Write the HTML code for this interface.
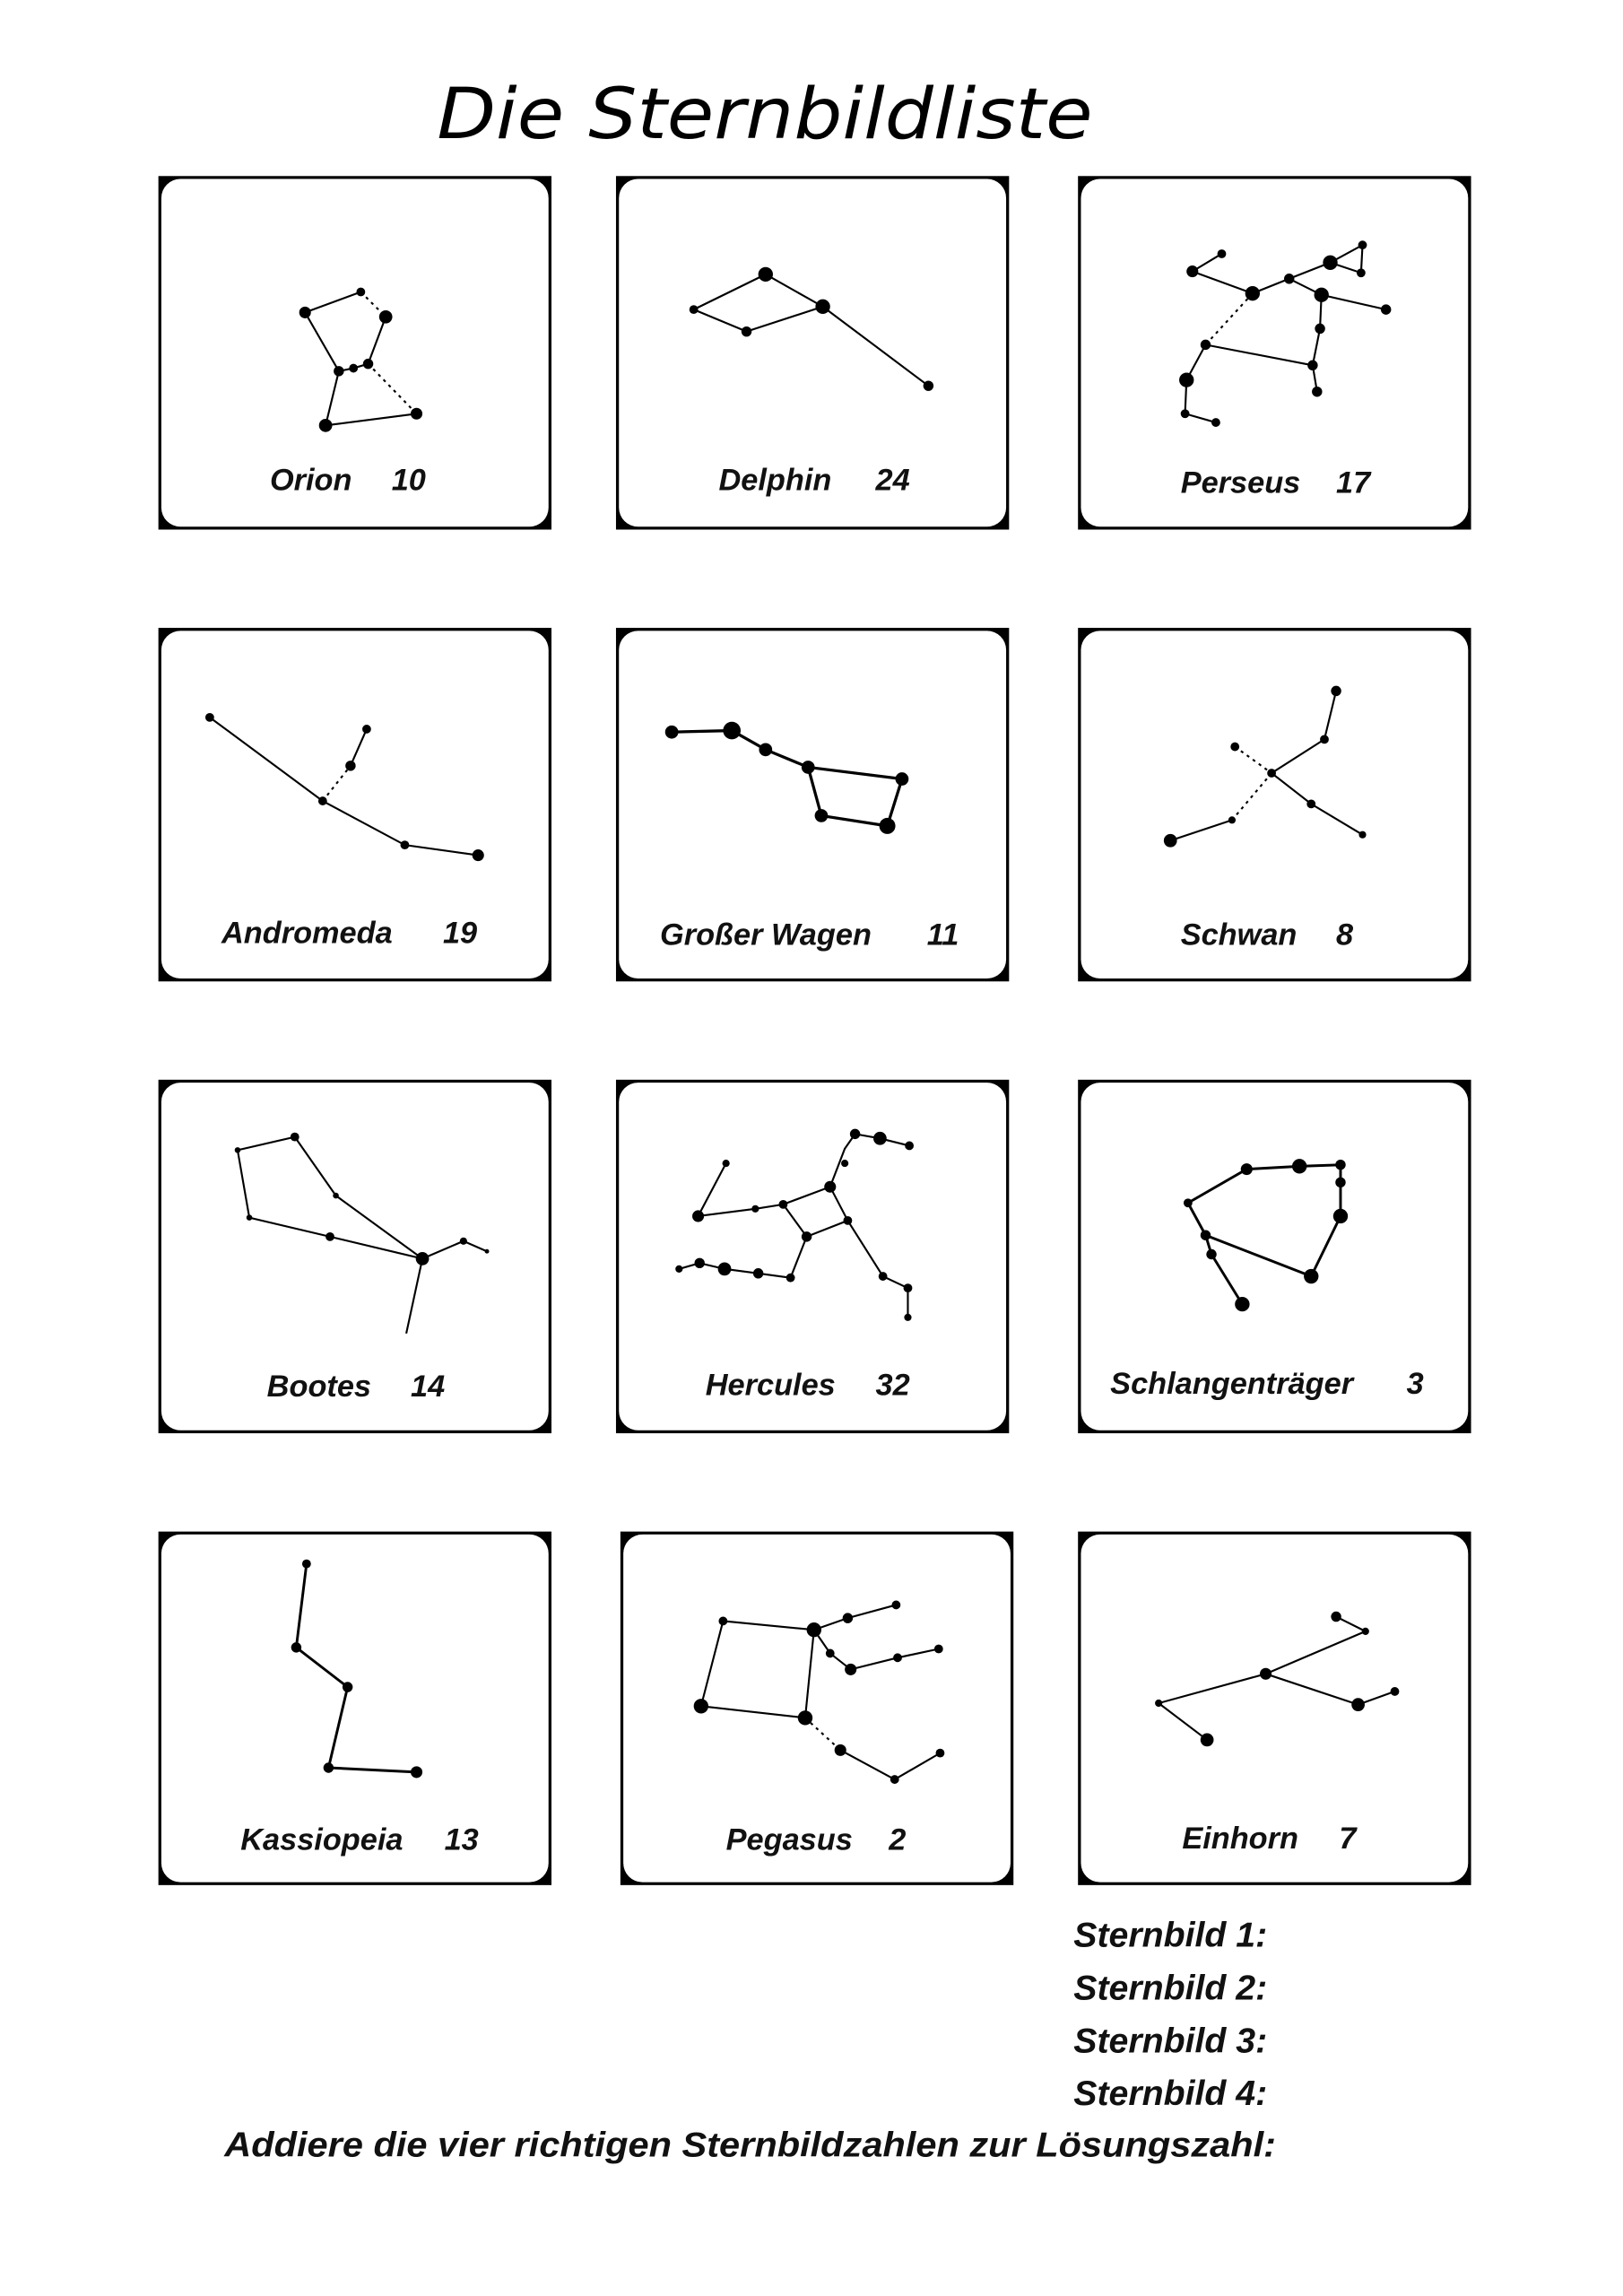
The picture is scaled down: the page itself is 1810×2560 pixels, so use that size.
<!DOCTYPE html>
<html><head><meta charset="utf-8"><style>
html,body{margin:0;padding:0;background:#fff}
svg{display:block}
.l{font-family:"Liberation Sans",sans-serif;font-weight:bold;font-style:italic;font-size:21px;fill:#111}
.b{font-family:"Liberation Sans",sans-serif;font-weight:bold;font-style:italic;font-size:24px;fill:#111}
line,polyline{stroke:#000;stroke-width:1.3;fill:none}
.d{stroke-dasharray:2 3}
circle{fill:#000}
</style></head><body>
<svg width="1810" height="2560" viewBox="0 0 1106.6 1565.1" preserveAspectRatio="none" xmlns="http://www.w3.org/2000/svg">
<text x="298" y="94" font-family="'DejaVu Sans',sans-serif" font-style="italic" font-size="48" textLength="447" lengthAdjust="spacingAndGlyphs" fill="#000">Die  Sternbildliste</text>
<g>
<rect x="108" y="120" width="268" height="241" fill="#000"/><rect x="110" y="122" width="264" height="237" rx="13" fill="#fff"/>
<rect x="420" y="120" width="268" height="241" fill="#000"/><rect x="422" y="122" width="264" height="237" rx="13" fill="#fff"/>
<rect x="735" y="120" width="268" height="241" fill="#000"/><rect x="737" y="122" width="264" height="237" rx="13" fill="#fff"/>
<rect x="108" y="428" width="268" height="241" fill="#000"/><rect x="110" y="430" width="264" height="237" rx="13" fill="#fff"/>
<rect x="420" y="428" width="268" height="241" fill="#000"/><rect x="422" y="430" width="264" height="237" rx="13" fill="#fff"/>
<rect x="735" y="428" width="268" height="241" fill="#000"/><rect x="737" y="430" width="264" height="237" rx="13" fill="#fff"/>
<rect x="108" y="736" width="268" height="241" fill="#000"/><rect x="110" y="738" width="264" height="237" rx="13" fill="#fff"/>
<rect x="420" y="736" width="268" height="241" fill="#000"/><rect x="422" y="738" width="264" height="237" rx="13" fill="#fff"/>
<rect x="735" y="736" width="268" height="241" fill="#000"/><rect x="737" y="738" width="264" height="237" rx="13" fill="#fff"/>
<rect x="108" y="1044" width="268" height="241" fill="#000"/><rect x="110" y="1046" width="264" height="237" rx="13" fill="#fff"/>
<rect x="423" y="1044" width="268" height="241" fill="#000"/><rect x="425" y="1046" width="264" height="237" rx="13" fill="#fff"/>
<rect x="735" y="1044" width="268" height="241" fill="#000"/><rect x="737" y="1046" width="264" height="237" rx="13" fill="#fff"/>
</g>
<!-- Orion -->
<polyline points="208,213 246,199"/><line class="d" x1="246" y1="199" x2="263" y2="216"/>
<polyline points="208,213 231,253 241,251 251,248 263,216"/><polyline points="231,253 222,290 284,282"/>
<line class="d" x1="251" y1="248" x2="284" y2="282"/>
<circle cx="208" cy="213" r="4"/><circle cx="246" cy="199" r="3"/><circle cx="263" cy="216" r="4.5"/><circle cx="231" cy="253" r="3.5"/><circle cx="241" cy="251" r="3"/><circle cx="251" cy="248" r="3.5"/><circle cx="222" cy="290" r="4.5"/><circle cx="284" cy="282" r="4"/>
<!-- Delphin -->
<polyline points="473,211 522,187 561,209 633,263"/><polyline points="473,211 509,226 561,209"/>
<circle cx="473" cy="211" r="3"/><circle cx="522" cy="187" r="5"/><circle cx="509" cy="226" r="3.5"/><circle cx="561" cy="209" r="5"/><circle cx="633" cy="263" r="3.5"/>
<!-- Perseus -->
<polyline points="833,173 813,185 854,200 879,190 907,179 929,167 928,186 907,179"/>
<polyline points="879,190 901,201 945,211"/><polyline points="901,201 900,224 895,249 898,267"/>
<line class="d" x1="854" y1="200" x2="822" y2="235"/><polyline points="895,249 822,235 809,259 808,282 829,288"/>
<circle cx="833" cy="173" r="3"/><circle cx="813" cy="185" r="4"/><circle cx="854" cy="200" r="5"/><circle cx="879" cy="190" r="3.5"/><circle cx="907" cy="179" r="5"/><circle cx="929" cy="167" r="3"/><circle cx="928" cy="186" r="3"/><circle cx="901" cy="201" r="5"/><circle cx="945" cy="211" r="3.5"/><circle cx="900" cy="224" r="3.5"/><circle cx="895" cy="249" r="3.5"/><circle cx="898" cy="267" r="3.5"/><circle cx="822" cy="235" r="3.5"/><circle cx="809" cy="259" r="5"/><circle cx="808" cy="282" r="3"/><circle cx="829" cy="288" r="3"/>
<!-- Andromeda -->
<polyline points="143,489 220,546 276,576 326,583"/><line class="d" x1="220" y1="546" x2="239" y2="522"/><line x1="239" y1="522" x2="250" y2="497"/>
<circle cx="143" cy="489" r="3"/><circle cx="220" cy="546" r="3"/><circle cx="239" cy="522" r="3.5"/><circle cx="250" cy="497" r="3"/><circle cx="276" cy="576" r="3"/><circle cx="326" cy="583" r="4"/>
<!-- Grosser Wagen -->
<polyline style="stroke-width:2" points="458,499 499,498 522,511 551,523 615,531 605,563 560,556 551,523"/>
<circle cx="458" cy="499" r="4.5"/><circle cx="499" cy="498" r="6"/><circle cx="522" cy="511" r="4.5"/><circle cx="551" cy="523" r="4.5"/><circle cx="615" cy="531" r="4.5"/><circle cx="605" cy="563" r="5.5"/><circle cx="560" cy="556" r="4.5"/>
<!-- Schwan -->
<polyline points="911,471 903,504 867,527 894,548 929,569"/><line class="d" x1="842" y1="509" x2="867" y2="527"/><line class="d" x1="867" y1="527" x2="840" y2="559"/><line x1="840" y1="559" x2="798" y2="573"/>
<circle cx="911" cy="471" r="3.5"/><circle cx="903" cy="504" r="3"/><circle cx="867" cy="527" r="3"/><circle cx="842" cy="509" r="3"/><circle cx="894" cy="548" r="3"/><circle cx="929" cy="569" r="2.5"/><circle cx="840" cy="559" r="2.5"/><circle cx="798" cy="573" r="4.5"/>
<!-- Bootes -->
<polyline points="162,784 201,775 229,815 288,858"/><polyline points="162,784 170,830 225,843 288,858 316,846 332,853"/><line x1="288" y1="858" x2="277" y2="909"/>
<circle cx="162" cy="784" r="2"/><circle cx="201" cy="775" r="3"/><circle cx="229" cy="815" r="2"/><circle cx="170" cy="830" r="2"/><circle cx="225" cy="843" r="3"/><circle cx="288" cy="858" r="4.5"/><circle cx="316" cy="846" r="2.5"/><circle cx="332" cy="853" r="1.5"/>
<!-- Hercules -->
<polyline points="495,793 476,829 515,824 534,821 566,809 578,832 550,843 534,821"/>
<polyline points="550,843 539,871 517,868 494,865 477,861 463,865"/>
<polyline points="566,809 576,783 583,773 600,776 620,781"/><polyline points="578,832 602,870 619,878 619,898"/>
<circle cx="495" cy="793" r="2.5"/><circle cx="476" cy="829" r="4"/><circle cx="515" cy="824" r="2.5"/><circle cx="534" cy="821" r="3"/><circle cx="566" cy="809" r="4"/><circle cx="578" cy="832" r="3"/><circle cx="550" cy="843" r="3.5"/><circle cx="539" cy="871" r="3"/><circle cx="517" cy="868" r="3.5"/><circle cx="494" cy="865" r="4.5"/><circle cx="477" cy="861" r="3.5"/><circle cx="463" cy="865" r="2.5"/><circle cx="576" cy="793" r="2.5"/><circle cx="583" cy="773" r="3.5"/><circle cx="600" cy="776" r="4.5"/><circle cx="620" cy="781" r="3"/><circle cx="602" cy="870" r="3"/><circle cx="619" cy="878" r="3"/><circle cx="619" cy="898" r="2.5"/>
<!-- Schlangentraeger -->
<polyline style="stroke-width:1.8" points="810,820 850,797 886,795 914,794 914,806 914,829 894,870 822,842"/><polyline style="stroke-width:1.8" points="810,820 822,842 826,855 847,889"/>
<circle cx="810" cy="820" r="3"/><circle cx="850" cy="797" r="4"/><circle cx="886" cy="795" r="5"/><circle cx="914" cy="794" r="3.5"/><circle cx="914" cy="806" r="3.5"/><circle cx="914" cy="829" r="5"/><circle cx="894" cy="870" r="5"/><circle cx="822" cy="842" r="3.5"/><circle cx="826" cy="855" r="3.5"/><circle cx="847" cy="889" r="5"/>
<!-- Kassiopeia -->
<polyline style="stroke-width:1.8" points="209,1066 202,1123 237,1150 224,1205 284,1208"/>
<circle cx="209" cy="1066" r="3"/><circle cx="202" cy="1123" r="3.5"/><circle cx="237" cy="1150" r="3.5"/><circle cx="224" cy="1205" r="3.5"/><circle cx="284" cy="1208" r="4"/>
<!-- Pegasus -->
<polyline points="555,1111 493,1105 478,1163 549,1171 555,1111 578,1103 611,1094"/><polyline points="555,1111 566,1127 580,1138 612,1130 640,1124"/>
<line class="d" x1="549" y1="1171" x2="573" y2="1193"/><polyline points="573,1193 610,1213 641,1195"/>
<circle cx="493" cy="1105" r="3"/><circle cx="555" cy="1111" r="5"/><circle cx="578" cy="1103" r="3.5"/><circle cx="611" cy="1094" r="3"/><circle cx="566" cy="1127" r="3"/><circle cx="580" cy="1138" r="4"/><circle cx="612" cy="1130" r="3"/><circle cx="640" cy="1124" r="3"/><circle cx="478" cy="1163" r="5"/><circle cx="549" cy="1171" r="5"/><circle cx="573" cy="1193" r="4"/><circle cx="610" cy="1213" r="3"/><circle cx="641" cy="1195" r="3"/>
<!-- Einhorn -->
<polyline points="911,1102 931,1112 863,1141 790,1161 823,1186"/><polyline points="863,1141 926,1162 951,1153"/>
<circle cx="911" cy="1102" r="3.5"/><circle cx="931" cy="1112" r="2.5"/><circle cx="863" cy="1141" r="4"/><circle cx="790" cy="1161" r="2.5"/><circle cx="823" cy="1186" r="4.5"/><circle cx="926" cy="1162" r="4.5"/><circle cx="951" cy="1153" r="3"/>
<!-- labels -->
<text class="l" x="184" y="334">Orion</text><text class="l" x="267" y="334">10</text>
<text class="l" x="490" y="334">Delphin</text><text class="l" x="597" y="334">24</text>
<text class="l" x="805" y="336">Perseus</text><text class="l" x="911" y="336">17</text>
<text class="l" x="151" y="643">Andromeda</text><text class="l" x="302" y="643">19</text>
<text class="l" x="450" y="644">Großer Wagen</text><text class="l" x="632" y="644">11</text>
<text class="l" x="805" y="644">Schwan</text><text class="l" x="911" y="644">8</text>
<text class="l" x="182" y="952">Bootes</text><text class="l" x="280" y="952">14</text>
<text class="l" x="481" y="951">Hercules</text><text class="l" x="597" y="951">32</text>
<text class="l" x="757" y="950">Schlangenträger</text><text class="l" x="959" y="950">3</text>
<text class="l" x="164" y="1261">Kassiopeia</text><text class="l" x="303" y="1261">13</text>
<text class="l" x="495" y="1261">Pegasus</text><text class="l" x="606" y="1261">2</text>
<text class="l" x="806" y="1260">Einhorn</text><text class="l" x="913" y="1260">7</text>
<text class="b" x="732" y="1327">Sternbild 1:</text>
<text class="b" x="732" y="1363">Sternbild 2:</text>
<text class="b" x="732" y="1399">Sternbild 3:</text>
<text class="b" x="732" y="1435">Sternbild 4:</text>
<text class="b" x="153" y="1470" textLength="717" lengthAdjust="spacingAndGlyphs">Addiere die vier richtigen Sternbildzahlen zur Lösungszahl:</text>
</svg>
</body></html>
